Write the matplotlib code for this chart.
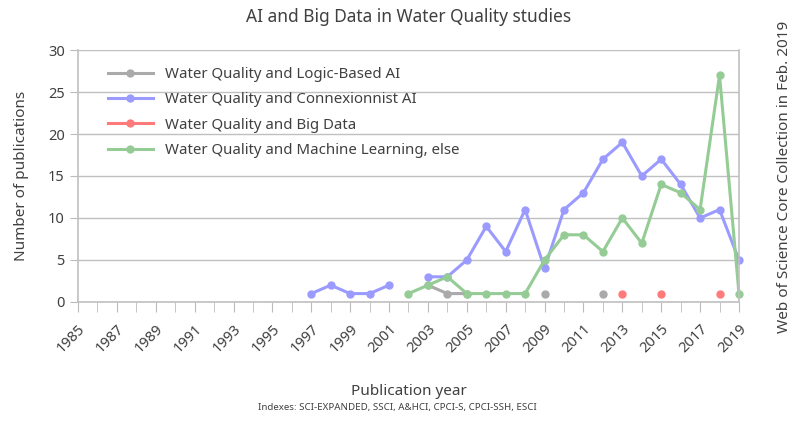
import numpy as np
import matplotlib.pyplot as plt
import matplotlib.transforms as mtransforms

plt.rcParams['font.family'] = ['Noto Sans', 'DejaVu Sans']

years = np.arange(1985, 2020)
nan = np.nan

# data (nan = no value)
logic_years = [2003, 2004, 2005, 2006, 2007, 2008, 2009, 2010, 2011, 2012]
logic_vals = [2, 1, 1, nan, nan, nan, 1, nan, nan, 1]

conn_years = [1997, 1998, 1999, 2000, 2001, 2002, 2003, 2004, 2005, 2006, 2007, 2008,
              2009, 2010, 2011, 2012, 2013, 2014, 2015, 2016, 2017, 2018, 2019]
conn_vals = [1, 2, 1, 1, 2, nan, 3, 3, 5, 9, 6, 11,
             4, 11, 13, 17, 19, 15, 17, 14, 10, 11, 5]

bigdata_years = [2013, 2014, 2015, 2016, 2017, 2018]
bigdata_vals = [1, nan, 1, nan, nan, 1]

ml_years = [2002, 2003, 2004, 2005, 2006, 2007, 2008, 2009, 2010, 2011, 2012,
            2013, 2014, 2015, 2016, 2017, 2018, 2019]
ml_vals = [1, 2, 3, 1, 1, 1, 1, 5, 8, 8, 6, 10, 7, 14, 13, 11, 27, 1]

c_gray = '#aaaaaa'
c_blue = '#9b9bff'
c_red = '#ff7b7b'
c_green = '#95cc95'
txt = '#404040'

fig = plt.figure(figsize=(7.94, 4.21), dpi=100)
ax = fig.add_axes([0.0982, 0.2827, 0.8325, 0.5985])

kw = dict(lw=2.2, marker='o', ms=5, clip_on=False)
ax.plot(logic_years, logic_vals, color=c_gray, label='Water Quality and Logic-Based AI', **kw)
ax.plot(conn_years, conn_vals, color=c_blue, label='Water Quality and Connexionnist AI', **kw)
ax.plot(bigdata_years, bigdata_vals, color=c_red, label='Water Quality and Big Data', **kw)
ax.plot(ml_years, ml_vals, color=c_green, label='Water Quality and Machine Learning, else', **kw)

ax.set_xlim(1985, 2019)
ax.set_ylim(0, 30)
ax.set_yticks(np.arange(0, 31, 5))
ax.set_xticks(np.arange(1985, 2020, 2))
ax.set_xticks(years, minor=True)
ax.set_xticklabels([str(y) for y in range(1985, 2020, 2)], rotation=45, ha='right',
                   rotation_mode='anchor', fontsize=10.5, color=txt)
# nudge the rotated labels a little to the right like the original
offset = mtransforms.ScaledTranslation(6 / 72, 0, fig.dpi_scale_trans)
for lab in ax.get_xticklabels():
    lab.set_transform(lab.get_transform() + offset)
ax.tick_params(axis='y', labelsize=10.5, labelcolor=txt, color='#bbbbbb', length=6)
ax.tick_params(axis='x', which='both', color='#bbbbbb', length=7, pad=7)
ax.grid(axis='y', color='#c0c0c0', lw=1)
ax.set_axisbelow(True)
ax.spines['top'].set_visible(False)
for s in ['left', 'bottom', 'right']:
    ax.spines[s].set_color('#c0c0c0')
    ax.spines[s].set_linewidth(1.2)

ax.set_ylabel('Number of publications', fontsize=11, color=txt, labelpad=14)
ax.set_xlabel('Publication year', fontsize=11, color=txt, labelpad=20)
ax.set_title('AI and Big Data in Water Quality studies', fontsize=12.5, color=txt, pad=20)
fig.text(0.5, 0.025, 'Indexes: SCI-EXPANDED, SSCI, A&HCI, CPCI-S, CPCI-SSH, ESCI',
         ha='center', fontsize=7, color=txt)
fig.text(0.988, 0.58, 'Web of Science Core Collection in Feb. 2019', rotation=90,
         ha='center', va='center', fontsize=11, color=txt)

leg = ax.legend(loc='upper left', bbox_to_anchor=(0.025, 0.985), frameon=False, fontsize=10.8,
                handlelength=3, labelspacing=0.68, labelcolor=txt)

fig.savefig('out.png')
